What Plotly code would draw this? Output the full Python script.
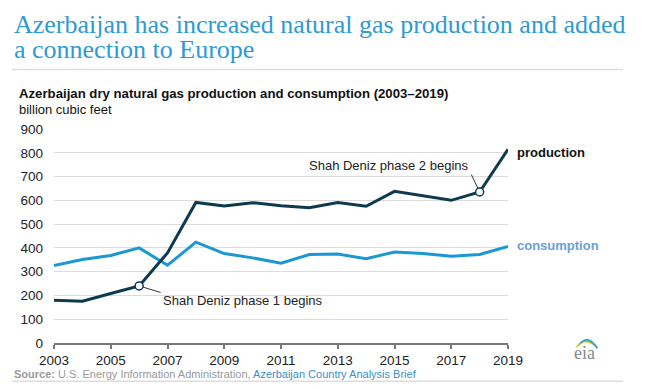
import plotly.graph_objects as go

years = list(range(2003, 2020))
production = [180, 176, 208, 240, 379, 591, 576, 590, 577, 569, 591, 575, 638, 618, 600, 635, 815]
consumption = [326, 351, 368, 400, 327, 424, 376, 358, 336, 372, 374, 354, 383, 376, 365, 372, 406]
y_ticks = [0, 100, 200, 300, 400, 500, 600, 700, 800, 900]
x_ticks = list(range(2003, 2020, 2))
events = {2006: "Shah Deniz phase 1 begins", 2018: "Shah Deniz phase 2 begins"}

OFF = 8  # page body margin of the html
W, H = 647 - OFF, 389 - OFF
L, R, T, B = 52.3, 508.3, 129.0, 342.7  # plot area in screen pixels
FONT = "Liberation Sans, Arial, sans-serif"
PROD_C = "#0e3a50"
CONS_C = "#1b98d3"


def px(x):
    return (x - L) / (R - L)


def py(y):
    return (B - y) / (B - T)


fig = go.Figure()
fig.add_trace(go.Scatter(x=years, y=consumption, mode="lines",
                         line=dict(color=CONS_C, width=3), hoverinfo="skip"))
fig.add_trace(go.Scatter(x=years, y=production, mode="lines",
                         line=dict(color=PROD_C, width=3), hoverinfo="skip"))
ev_x = [y for y in years if y in events]
ev_y = [production[years.index(y)] for y in ev_x]
fig.add_trace(go.Scatter(x=ev_x, y=ev_y, mode="markers",
                         marker=dict(size=8, color="white", line=dict(color=PROD_C, width=1.5)),
                         hoverinfo="skip"))

ann = []
TITLE_FONT = dict(family="Liberation Serif, Times New Roman, serif", size=26, color="#2e9bd0")
ann.append(dict(text="Azerbaijan has increased natural gas production and added",
                x=px(10), y=py(25), xref="paper", yref="paper", xanchor="left", yanchor="middle",
                showarrow=False, font=TITLE_FONT))
ann.append(dict(text="a connection to Europe",
                x=px(10), y=py(50), xref="paper", yref="paper", xanchor="left", yanchor="middle",
                showarrow=False, font=TITLE_FONT))
ann.append(dict(text="<b>Azerbaijan dry natural gas production and consumption (2003–2019)</b>",
                x=px(15), y=py(94), xref="paper", yref="paper", xanchor="left", yanchor="middle",
                showarrow=False, font=dict(family=FONT, size=13.2, color="#111111")))
ann.append(dict(text="billion cubic feet",
                x=px(15), y=py(110), xref="paper", yref="paper", xanchor="left", yanchor="middle",
                showarrow=False, font=dict(family=FONT, size=13, color="#111111")))
ann.append(dict(text="<b>Source:</b> U.S. Energy Information Administration, "
                     "<span style='color:#3a8fc8'>Azerbaijan Country Analysis Brief</span>",
                x=px(10), y=py(374), xref="paper", yref="paper", xanchor="left", yanchor="middle",
                showarrow=False, font=dict(family=FONT, size=11, color="#9a9a9a")))
# series labels
ann.append(dict(text="<b>production</b>", x=years[-1], y=production[-1], xanchor="left", yanchor="middle",
                xshift=7, yshift=-3, showarrow=False, font=dict(family=FONT, size=13, color="#111111")))
ann.append(dict(text="<b>consumption</b>", x=years[-1], y=consumption[-1], xanchor="left", yanchor="middle",
                xshift=7, yshift=1, showarrow=False, font=dict(family=FONT, size=13, color="#6a9fd6")))
# event labels
e1, e2 = ev_x
ann.append(dict(text=events[e1], x=e1, y=ev_y[0], xanchor="left", yanchor="middle",
                xshift=22, yshift=-15, showarrow=False, font=dict(family=FONT, size=13, color="#222222")))
ann.append(dict(text="", x=e1, y=ev_y[0], ax=23, ay=7, showarrow=True, arrowhead=0,
                arrowwidth=1, arrowcolor="#333333", standoff=4))
ann.append(dict(text=events[e2], x=e2, y=ev_y[1], xanchor="right", yanchor="middle",
                xshift=-9, yshift=27, showarrow=False, font=dict(family=FONT, size=13, color="#222222")))
ann.append(dict(text="", x=e2, y=ev_y[1], ax=-9, ay=-19, showarrow=True, arrowhead=0,
                arrowwidth=1, arrowcolor="#333333", standoff=4))
# eia logo text
ann.append(dict(text="eia", x=px(585), y=py(353), xref="paper", yref="paper", xanchor="center",
                yanchor="middle", showarrow=False,
                font=dict(family="Liberation Serif, serif", size=18, color="#7f8c94")))

shapes = [
    dict(type="line", xref="paper", yref="paper", x0=px(10), x1=px(624), y0=py(69.5), y1=py(69.5),
         line=dict(color="#dddddd", width=1.5)),
    dict(type="line", xref="paper", yref="paper", x0=px(10), x1=px(624), y0=py(381), y1=py(381),
         line=dict(color="#dddddd", width=1.5)),
    dict(type="line", xref="paper", yref="paper", x0=px(641), x1=px(641), y0=py(0), y1=py(389),
         line=dict(color="#e3e3e3", width=1.5)),
]
# eia arcs
arc_cols = ["#f2c11d", "#8cc63f", "#2a9fd8"]
for i, c in enumerate(arc_cols):
    x0, y0 = 577 + i * 2, 347 - i * 2
    x1, y1 = 598, 347 + i * 0.5
    cx, cy = 585 + i * 2, 336 - i * 1
    path = f"M {px(x0)} {py(y0)} Q {px(cx)} {py(cy)} {px(x1)} {py(y1)}"
    shapes.append(dict(type="path", xref="paper", yref="paper", path=path,
                       line=dict(color=c, width=1.5)))

fig.update_layout(
    width=W, height=H,
    margin=dict(l=L - OFF, r=647 - R, t=T - OFF, b=389 - B, pad=0),
    paper_bgcolor="white", plot_bgcolor="white",
    showlegend=False,
    annotations=ann,
    shapes=shapes,
    xaxis=dict(range=[2003, 2019], tickvals=x_ticks, ticktext=[str(v) for v in x_ticks],
               showgrid=False, zeroline=False, showline=True, linecolor="#777777", linewidth=1.5,
               ticks="outside", ticklen=4, tickwidth=1.5, tickcolor="#777777",
               tickfont=dict(family=FONT, size=13.5, color="#222222"), fixedrange=True),
    yaxis=dict(range=[0, 900], tickvals=y_ticks, ticktext=[str(v) for v in y_ticks],
               showgrid=True, gridcolor="#dcdcdc", gridwidth=1, zeroline=False, showline=False,
               ticks="", ticklabelstandoff=10,
               tickfont=dict(family=FONT, size=13.5, color="#222222"), fixedrange=True),
)

fig.write_html("out.html")
